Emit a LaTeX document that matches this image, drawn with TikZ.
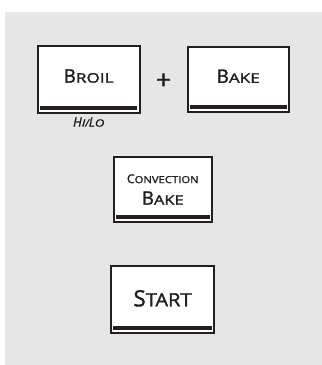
\documentclass[tikz,border=0pt]{standalone}
\usepackage{fontspec}
\usepackage{graphicx}
\setmainfont{Open Sans}[FakeBold=1.6]
\usetikzlibrary{positioning,calc}
\definecolor{panelgray}{HTML}{E6E6E6}
\definecolor{inkdark}{HTML}{231F20}
% fake small caps: [widen], big size, small size, first letter, rest
\newcommand{\smcap}[5][1]{{\fontsize{#2pt}{#2pt}\selectfont #4}{\fontsize{#3pt}{#3pt}\selectfont\scalebox{#1}[1]{#5}}}

\begin{document}
\begin{tikzpicture}[x=1pt,y=1pt,
  button/.style={draw=inkdark,fill=white,line width=2pt,outer sep=0pt,inner sep=0pt,text=inkdark},
  caption/.style={inner sep=0pt,text=inkdark,font=\itshape}]
\useasboundingbox (0,0) rectangle (322,365);
\fill[panelgray] (5,0) rectangle (322,353);
\node[button,minimum width=102,minimum height=67,text height=13.3pt,text depth=7pt] (broil) at (88.7,285.5) {\smcap[1.3]{18.6}{13.2}{B}{ROIL}};
\node[button,minimum width=101.3,minimum height=65.6,text height=13.3pt,text depth=6.6pt] (bake) at (238.3,285.5) {\smcap[1.3]{18.6}{13.2}{B}{AKE}};
\node[button,minimum width=98.3,minimum height=65,align=center,font=\fontsize{19}{21.6}\selectfont] (convbake) at (162.8,175.5) {\smcap[1.15]{12.2}{9.8}{C}{ONVECTION}\\\smcap[1.25]{18.6}{13.2}{B}{AKE}};
\node[button,minimum width=103,minimum height=67,text height=16pt,text depth=2.4pt] (start) at (162.5,65.5) {\smcap[1.1]{22.4}{18.2}{S}{TART}};
\foreach \b in {broil,bake,convbake,start}{\fill[inkdark] ($(\b.south west)+(2.3,3)$) rectangle ($(\b.south east)+(-2.3,7)$);}
\node[caption,below=4.7pt of broil,text height=8.7pt] (hilo) {\smcap[1.3]{12.8}{10}{H}{I}/\smcap[1.3]{12.8}{10}{L}{O}};
\node[inner sep=0pt,text=inkdark,font=\fontsize{26}{26}\selectfont] (plus) at ($(broil)!0.5!(bake)+(0,-1.8)$) {+};
\end{tikzpicture}
\end{document}
